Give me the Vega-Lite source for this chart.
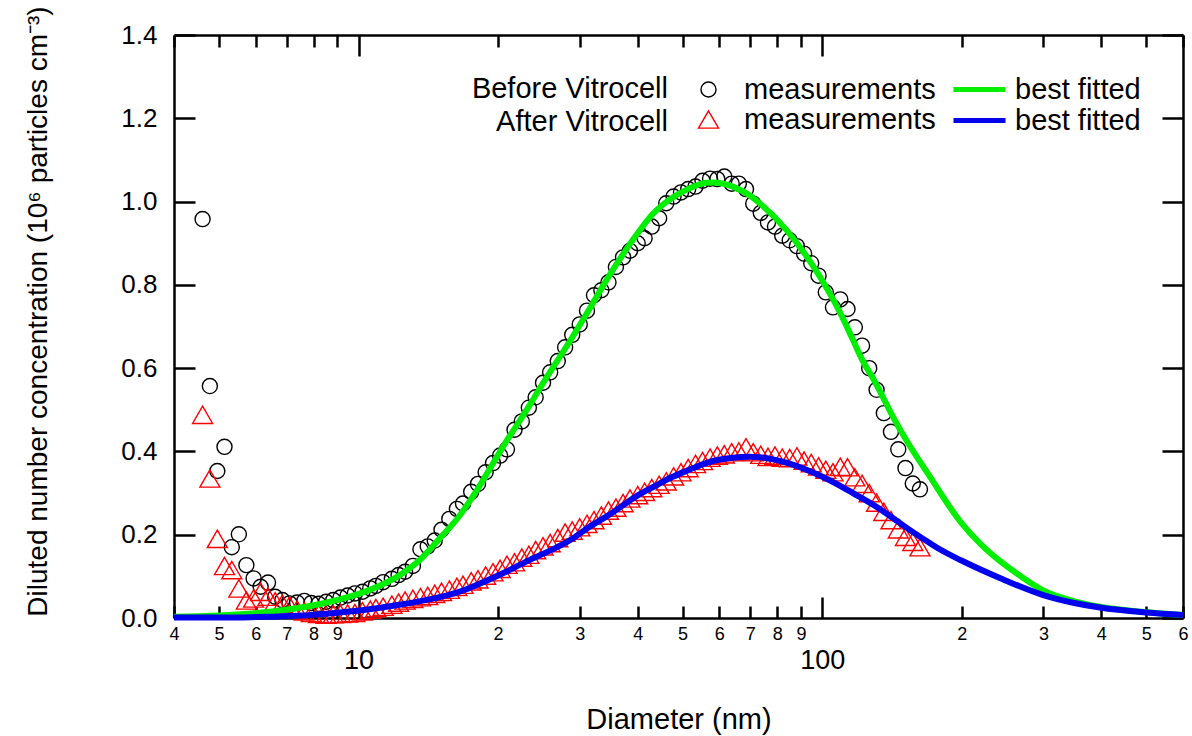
{
  "$schema": "https://vega.github.io/schema/vega-lite/v6.json",
  "width": 1009,
  "height": 583,
  "autosize": {"type": "none"},
  "padding": {"left": 174, "top": 35, "right": 9, "bottom": 118},
  "background": "white",
  "config": {
    "view": {"stroke": null},
    "font": "Liberation Sans",
    "axis": {
      "grid": false,
      "domainColor": "black",
      "domainWidth": 2.5,
      "tickColor": "black",
      "tickWidth": 2.5,
      "labelColor": "black",
      "titleColor": "black",
      "labelFont": "Liberation Sans",
      "titleFont": "Liberation Sans",
      "titleFontWeight": "normal"
    },
    "legend": {
      "labelFont": "Liberation Sans",
      "titleFont": "Liberation Sans",
      "labelColor": "black",
      "titleColor": "black",
      "padding": 0,
      "labelLimit": 400,
      "titleLimit": 400
    }
  },
  "datasets": {
    "meas": [
      {"d":4.61,"v":0.958,"g":"Before Vitrocell"},{"d":4.78,"v":0.557,"g":"Before Vitrocell"},{"d":4.96,"v":0.353,"g":"Before Vitrocell"},{"d":5.14,"v":0.411,"g":"Before Vitrocell"},{"d":5.33,"v":0.170,"g":"Before Vitrocell"},{"d":5.52,"v":0.201,"g":"Before Vitrocell"},{"d":5.73,"v":0.127,"g":"Before Vitrocell"},{"d":5.94,"v":0.095,"g":"Before Vitrocell"},{"d":6.15,"v":0.075,"g":"Before Vitrocell"},{"d":6.38,"v":0.085,"g":"Before Vitrocell"},
      {"d":6.61,"v":0.051,"g":"Before Vitrocell"},{"d":6.85,"v":0.043,"g":"Before Vitrocell"},{"d":7.1,"v":0.035,"g":"Before Vitrocell"},{"d":7.37,"v":0.037,"g":"Before Vitrocell"},{"d":7.64,"v":0.041,"g":"Before Vitrocell"},{"d":7.91,"v":0.036,"g":"Before Vitrocell"},{"d":8.2,"v":0.034,"g":"Before Vitrocell"},{"d":8.51,"v":0.039,"g":"Before Vitrocell"},{"d":8.82,"v":0.043,"g":"Before Vitrocell"},{"d":9.14,"v":0.049,"g":"Before Vitrocell"},
      {"d":9.47,"v":0.054,"g":"Before Vitrocell"},{"d":9.82,"v":0.059,"g":"Before Vitrocell"},{"d":10.2,"v":0.063,"g":"Before Vitrocell"},{"d":10.6,"v":0.071,"g":"Before Vitrocell"},{"d":10.9,"v":0.077,"g":"Before Vitrocell"},{"d":11.3,"v":0.086,"g":"Before Vitrocell"},{"d":11.8,"v":0.094,"g":"Before Vitrocell"},{"d":12.2,"v":0.103,"g":"Before Vitrocell"},{"d":12.6,"v":0.111,"g":"Before Vitrocell"},{"d":13.1,"v":0.125,"g":"Before Vitrocell"},
      {"d":13.6,"v":0.165,"g":"Before Vitrocell"},{"d":14.1,"v":0.172,"g":"Before Vitrocell"},{"d":14.6,"v":0.186,"g":"Before Vitrocell"},{"d":15.1,"v":0.212,"g":"Before Vitrocell"},{"d":15.7,"v":0.238,"g":"Before Vitrocell"},{"d":16.3,"v":0.262,"g":"Before Vitrocell"},{"d":16.8,"v":0.275,"g":"Before Vitrocell"},{"d":17.5,"v":0.303,"g":"Before Vitrocell"},{"d":18.1,"v":0.322,"g":"Before Vitrocell"},{"d":18.8,"v":0.350,"g":"Before Vitrocell"},
      {"d":19.5,"v":0.372,"g":"Before Vitrocell"},{"d":20.2,"v":0.390,"g":"Before Vitrocell"},{"d":20.9,"v":0.405,"g":"Before Vitrocell"},{"d":21.7,"v":0.452,"g":"Before Vitrocell"},{"d":22.5,"v":0.472,"g":"Before Vitrocell"},{"d":23.3,"v":0.505,"g":"Before Vitrocell"},{"d":24.1,"v":0.530,"g":"Before Vitrocell"},{"d":25.0,"v":0.565,"g":"Before Vitrocell"},{"d":25.9,"v":0.590,"g":"Before Vitrocell"},{"d":26.9,"v":0.617,"g":"Before Vitrocell"},
      {"d":27.9,"v":0.650,"g":"Before Vitrocell"},{"d":28.9,"v":0.680,"g":"Before Vitrocell"},{"d":30.0,"v":0.705,"g":"Before Vitrocell"},{"d":31.1,"v":0.738,"g":"Before Vitrocell"},{"d":32.2,"v":0.775,"g":"Before Vitrocell"},{"d":33.4,"v":0.787,"g":"Before Vitrocell"},{"d":34.6,"v":0.806,"g":"Before Vitrocell"},{"d":35.9,"v":0.843,"g":"Before Vitrocell"},{"d":37.2,"v":0.866,"g":"Before Vitrocell"},{"d":38.5,"v":0.882,"g":"Before Vitrocell"},
      {"d":40.0,"v":0.900,"g":"Before Vitrocell"},{"d":41.4,"v":0.912,"g":"Before Vitrocell"},{"d":42.9,"v":0.940,"g":"Before Vitrocell"},{"d":44.5,"v":0.960,"g":"Before Vitrocell"},{"d":46.1,"v":0.996,"g":"Before Vitrocell"},{"d":47.8,"v":1.012,"g":"Before Vitrocell"},{"d":49.6,"v":1.022,"g":"Before Vitrocell"},{"d":51.4,"v":1.030,"g":"Before Vitrocell"},{"d":53.3,"v":1.036,"g":"Before Vitrocell"},{"d":55.2,"v":1.050,"g":"Before Vitrocell"},
      {"d":57.3,"v":1.055,"g":"Before Vitrocell"},{"d":59.4,"v":1.054,"g":"Before Vitrocell"},{"d":61.5,"v":1.060,"g":"Before Vitrocell"},{"d":63.8,"v":1.043,"g":"Before Vitrocell"},{"d":66.1,"v":1.043,"g":"Before Vitrocell"},{"d":68.5,"v":1.030,"g":"Before Vitrocell"},{"d":71.0,"v":0.995,"g":"Before Vitrocell"},{"d":73.7,"v":0.973,"g":"Before Vitrocell"},{"d":76.4,"v":0.950,"g":"Before Vitrocell"},{"d":79.1,"v":0.940,"g":"Before Vitrocell"},
      {"d":82.0,"v":0.918,"g":"Before Vitrocell"},{"d":85.1,"v":0.907,"g":"Before Vitrocell"},{"d":88.2,"v":0.893,"g":"Before Vitrocell"},{"d":91.4,"v":0.875,"g":"Before Vitrocell"},{"d":94.7,"v":0.852,"g":"Before Vitrocell"},{"d":98.2,"v":0.822,"g":"Before Vitrocell"},{"d":101.8,"v":0.782,"g":"Before Vitrocell"},{"d":105.5,"v":0.746,"g":"Before Vitrocell"},{"d":109.4,"v":0.765,"g":"Before Vitrocell"},{"d":113.4,"v":0.742,"g":"Before Vitrocell"},
      {"d":117.6,"v":0.698,"g":"Before Vitrocell"},{"d":121.9,"v":0.654,"g":"Before Vitrocell"},{"d":126.3,"v":0.600,"g":"Before Vitrocell"},{"d":131.0,"v":0.548,"g":"Before Vitrocell"},{"d":135.8,"v":0.492,"g":"Before Vitrocell"},{"d":140.7,"v":0.447,"g":"Before Vitrocell"},{"d":145.9,"v":0.405,"g":"Before Vitrocell"},{"d":151.2,"v":0.360,"g":"Before Vitrocell"},{"d":156.8,"v":0.323,"g":"Before Vitrocell"},{"d":162.5,"v":0.309,"g":"Before Vitrocell"},
      {"d":4.61,"v":0.488,"g":"After Vitrocell"},{"d":4.78,"v":0.335,"g":"After Vitrocell"},{"d":4.96,"v":0.190,"g":"After Vitrocell"},{"d":5.14,"v":0.125,"g":"After Vitrocell"},{"d":5.33,"v":0.115,"g":"After Vitrocell"},{"d":5.52,"v":0.071,"g":"After Vitrocell"},{"d":5.73,"v":0.042,"g":"After Vitrocell"},{"d":5.94,"v":0.047,"g":"After Vitrocell"},{"d":6.15,"v":0.063,"g":"After Vitrocell"},{"d":6.38,"v":0.051,"g":"After Vitrocell"},
      {"d":6.61,"v":0.040,"g":"After Vitrocell"},{"d":6.85,"v":0.034,"g":"After Vitrocell"},{"d":7.1,"v":0.030,"g":"After Vitrocell"},{"d":7.37,"v":0.020,"g":"After Vitrocell"},{"d":7.64,"v":0.016,"g":"After Vitrocell"},{"d":7.91,"v":0.012,"g":"After Vitrocell"},{"d":8.2,"v":0.010,"g":"After Vitrocell"},{"d":8.51,"v":0.008,"g":"After Vitrocell"},{"d":8.82,"v":0.009,"g":"After Vitrocell"},{"d":9.14,"v":0.010,"g":"After Vitrocell"},
      {"d":9.47,"v":0.011,"g":"After Vitrocell"},{"d":9.82,"v":0.012,"g":"After Vitrocell"},{"d":10.2,"v":0.016,"g":"After Vitrocell"},{"d":10.6,"v":0.020,"g":"After Vitrocell"},{"d":10.9,"v":0.024,"g":"After Vitrocell"},{"d":11.3,"v":0.027,"g":"After Vitrocell"},{"d":11.8,"v":0.032,"g":"After Vitrocell"},{"d":12.2,"v":0.037,"g":"After Vitrocell"},{"d":12.6,"v":0.042,"g":"After Vitrocell"},{"d":13.1,"v":0.046,"g":"After Vitrocell"},
      {"d":13.6,"v":0.050,"g":"After Vitrocell"},{"d":14.1,"v":0.053,"g":"After Vitrocell"},{"d":14.6,"v":0.058,"g":"After Vitrocell"},{"d":15.1,"v":0.063,"g":"After Vitrocell"},{"d":15.7,"v":0.068,"g":"After Vitrocell"},{"d":16.3,"v":0.075,"g":"After Vitrocell"},{"d":16.8,"v":0.080,"g":"After Vitrocell"},{"d":17.5,"v":0.088,"g":"After Vitrocell"},{"d":18.1,"v":0.093,"g":"After Vitrocell"},{"d":18.8,"v":0.102,"g":"After Vitrocell"},
      {"d":19.5,"v":0.110,"g":"After Vitrocell"},{"d":20.2,"v":0.118,"g":"After Vitrocell"},{"d":20.9,"v":0.128,"g":"After Vitrocell"},{"d":21.7,"v":0.134,"g":"After Vitrocell"},{"d":22.5,"v":0.145,"g":"After Vitrocell"},{"d":23.3,"v":0.152,"g":"After Vitrocell"},{"d":24.1,"v":0.163,"g":"After Vitrocell"},{"d":25.0,"v":0.172,"g":"After Vitrocell"},{"d":25.9,"v":0.180,"g":"After Vitrocell"},{"d":26.9,"v":0.192,"g":"After Vitrocell"},
      {"d":27.9,"v":0.205,"g":"After Vitrocell"},{"d":28.9,"v":0.210,"g":"After Vitrocell"},{"d":30.0,"v":0.218,"g":"After Vitrocell"},{"d":31.1,"v":0.226,"g":"After Vitrocell"},{"d":32.2,"v":0.235,"g":"After Vitrocell"},{"d":33.4,"v":0.246,"g":"After Vitrocell"},{"d":34.6,"v":0.258,"g":"After Vitrocell"},{"d":35.9,"v":0.265,"g":"After Vitrocell"},{"d":37.2,"v":0.276,"g":"After Vitrocell"},{"d":38.5,"v":0.287,"g":"After Vitrocell"},
      {"d":40.0,"v":0.295,"g":"After Vitrocell"},{"d":41.4,"v":0.303,"g":"After Vitrocell"},{"d":42.9,"v":0.312,"g":"After Vitrocell"},{"d":44.5,"v":0.320,"g":"After Vitrocell"},{"d":46.1,"v":0.328,"g":"After Vitrocell"},{"d":47.8,"v":0.340,"g":"After Vitrocell"},{"d":49.6,"v":0.350,"g":"After Vitrocell"},{"d":51.4,"v":0.360,"g":"After Vitrocell"},{"d":53.3,"v":0.370,"g":"After Vitrocell"},{"d":55.2,"v":0.377,"g":"After Vitrocell"},
      {"d":57.3,"v":0.385,"g":"After Vitrocell"},{"d":59.4,"v":0.390,"g":"After Vitrocell"},{"d":61.5,"v":0.393,"g":"After Vitrocell"},{"d":63.8,"v":0.398,"g":"After Vitrocell"},{"d":66.1,"v":0.400,"g":"After Vitrocell"},{"d":68.5,"v":0.410,"g":"After Vitrocell"},{"d":71.0,"v":0.398,"g":"After Vitrocell"},{"d":73.7,"v":0.392,"g":"After Vitrocell"},{"d":76.4,"v":0.387,"g":"After Vitrocell"},{"d":79.1,"v":0.390,"g":"After Vitrocell"},
      {"d":82.0,"v":0.385,"g":"After Vitrocell"},{"d":85.1,"v":0.384,"g":"After Vitrocell"},{"d":88.2,"v":0.388,"g":"After Vitrocell"},{"d":91.4,"v":0.378,"g":"After Vitrocell"},{"d":94.7,"v":0.372,"g":"After Vitrocell"},{"d":98.2,"v":0.364,"g":"After Vitrocell"},{"d":101.8,"v":0.356,"g":"After Vitrocell"},{"d":105.5,"v":0.350,"g":"After Vitrocell"},{"d":109.4,"v":0.363,"g":"After Vitrocell"},{"d":113.4,"v":0.362,"g":"After Vitrocell"},
      {"d":117.6,"v":0.338,"g":"After Vitrocell"},{"d":121.9,"v":0.322,"g":"After Vitrocell"},{"d":126.3,"v":0.300,"g":"After Vitrocell"},{"d":131.0,"v":0.277,"g":"After Vitrocell"},{"d":135.8,"v":0.255,"g":"After Vitrocell"},{"d":140.7,"v":0.235,"g":"After Vitrocell"},{"d":145.9,"v":0.213,"g":"After Vitrocell"},{"d":151.2,"v":0.195,"g":"After Vitrocell"},{"d":156.8,"v":0.183,"g":"After Vitrocell"},{"d":162.5,"v":0.170,"g":"After Vitrocell"}
    ],
    "fit": [
      {"d":4.0,"v":0.003,"g":"Before Vitrocell"},{"d":5.0,"v":0.006,"g":"Before Vitrocell"},{"d":5.89,"v":0.011,"g":"Before Vitrocell"},{"d":6.42,"v":0.015,"g":"Before Vitrocell"},{"d":7.56,"v":0.026,"g":"Before Vitrocell"},{"d":8.22,"v":0.033,"g":"Before Vitrocell"},{"d":9.69,"v":0.053,"g":"Before Vitrocell"},{"d":10.54,"v":0.067,"g":"Before Vitrocell"},{"d":12.43,"v":0.107,"g":"Before Vitrocell"},{"d":13.52,"v":0.138,"g":"Before Vitrocell"},
      {"d":14.94,"v":0.19,"g":"Before Vitrocell"},{"d":16.5,"v":0.245,"g":"Before Vitrocell"},{"d":17.6,"v":0.29,"g":"Before Vitrocell"},{"d":20.8,"v":0.423,"g":"Before Vitrocell"},{"d":23.36,"v":0.51,"g":"Before Vitrocell"},{"d":24.55,"v":0.55,"g":"Before Vitrocell"},{"d":28.98,"v":0.676,"g":"Before Vitrocell"},{"d":31.48,"v":0.742,"g":"Before Vitrocell"},{"d":34.2,"v":0.81,"g":"Before Vitrocell"},{"d":40.36,"v":0.93,"g":"Before Vitrocell"},
      {"d":43.1,"v":0.97,"g":"Before Vitrocell"},{"d":47.6,"v":1.01,"g":"Before Vitrocell"},{"d":50.9,"v":1.028,"g":"Before Vitrocell"},{"d":56.2,"v":1.045,"g":"Before Vitrocell"},{"d":58.1,"v":1.046,"g":"Before Vitrocell"},{"d":64.2,"v":1.036,"g":"Before Vitrocell"},{"d":69.7,"v":1.015,"g":"Before Vitrocell"},{"d":73.3,"v":0.996,"g":"Before Vitrocell"},{"d":83.7,"v":0.932,"g":"Before Vitrocell"},{"d":98.8,"v":0.82,"g":"Before Vitrocell"},
      {"d":109.1,"v":0.735,"g":"Before Vitrocell"},{"d":116.5,"v":0.668,"g":"Before Vitrocell"},{"d":122.0,"v":0.62,"g":"Before Vitrocell"},{"d":128.8,"v":0.575,"g":"Before Vitrocell"},{"d":144.6,"v":0.468,"g":"Before Vitrocell"},{"d":151.9,"v":0.427,"g":"Before Vitrocell"},{"d":170.6,"v":0.340,"g":"Before Vitrocell"},{"d":199.7,"v":0.228,"g":"Before Vitrocell"},{"d":220.0,"v":0.177,"g":"Before Vitrocell"},{"d":241.6,"v":0.137,"g":"Before Vitrocell"},
      {"d":270.0,"v":0.098,"g":"Before Vitrocell"},{"d":299.7,"v":0.066,"g":"Before Vitrocell"},{"d":350.0,"v":0.040,"g":"Before Vitrocell"},{"d":397,"v":0.027,"g":"Before Vitrocell"},{"d":501,"v":0.014,"g":"Before Vitrocell"},{"d":600,"v":0.007,"g":"Before Vitrocell"},
      {"d":4.0,"v":0.001,"g":"After Vitrocell"},{"d":5.0,"v":0.001,"g":"After Vitrocell"},{"d":5.89,"v":0.002,"g":"After Vitrocell"},{"d":6.42,"v":0.003,"g":"After Vitrocell"},{"d":7.56,"v":0.006,"g":"After Vitrocell"},{"d":8.22,"v":0.009,"g":"After Vitrocell"},{"d":9.69,"v":0.016,"g":"After Vitrocell"},{"d":10.54,"v":0.021,"g":"After Vitrocell"},{"d":12.43,"v":0.033,"g":"After Vitrocell"},{"d":13.52,"v":0.040,"g":"After Vitrocell"},
      {"d":14.94,"v":0.050,"g":"After Vitrocell"},{"d":16.5,"v":0.063,"g":"After Vitrocell"},{"d":17.6,"v":0.075,"g":"After Vitrocell"},{"d":20.8,"v":0.111,"g":"After Vitrocell"},{"d":23.36,"v":0.139,"g":"After Vitrocell"},{"d":24.55,"v":0.150,"g":"After Vitrocell"},{"d":28.98,"v":0.191,"g":"After Vitrocell"},{"d":31.48,"v":0.219,"g":"After Vitrocell"},{"d":34.2,"v":0.243,"g":"After Vitrocell"},{"d":40.36,"v":0.297,"g":"After Vitrocell"},
      {"d":43.1,"v":0.314,"g":"After Vitrocell"},{"d":47.6,"v":0.339,"g":"After Vitrocell"},{"d":50.9,"v":0.353,"g":"After Vitrocell"},{"d":56.2,"v":0.372,"g":"After Vitrocell"},{"d":58.1,"v":0.377,"g":"After Vitrocell"},{"d":64.2,"v":0.385,"g":"After Vitrocell"},{"d":69.7,"v":0.387,"g":"After Vitrocell"},{"d":73.3,"v":0.386,"g":"After Vitrocell"},{"d":83.7,"v":0.373,"g":"After Vitrocell"},{"d":98.8,"v":0.342,"g":"After Vitrocell"},
      {"d":109.1,"v":0.318,"g":"After Vitrocell"},{"d":116.5,"v":0.300,"g":"After Vitrocell"},{"d":128.8,"v":0.272,"g":"After Vitrocell"},{"d":144.6,"v":0.234,"g":"After Vitrocell"},{"d":151.9,"v":0.217,"g":"After Vitrocell"},{"d":170.6,"v":0.180,"g":"After Vitrocell"},{"d":179.3,"v":0.165,"g":"After Vitrocell"},{"d":199.7,"v":0.138,"g":"After Vitrocell"},{"d":241.6,"v":0.096,"g":"After Vitrocell"},{"d":299.7,"v":0.055,"g":"After Vitrocell"},
      {"d":350.0,"v":0.036,"g":"After Vitrocell"},{"d":397,"v":0.025,"g":"After Vitrocell"},{"d":501,"v":0.013,"g":"After Vitrocell"},{"d":600,"v":0.007,"g":"After Vitrocell"}
    ]
  },
  "layer": [
    {
      "data": {"name": "meas"},
      "mark": {"type": "point", "filled": false, "strokeWidth": 1.4, "opacity": 1},
      "encoding": {
        "x": {
          "field": "d", "type": "quantitative",
          "scale": {"type": "log", "domain": [4, 600], "nice": false},
          "axis": {
            "orient": "bottom",
            "values": [4,5,6,7,8,9,10,20,30,40,50,60,70,80,90,100,200,300,400,500,600],
            "labelExpr": "datum.value == 10 || datum.value == 100 ? format(datum.value, 'd') : format(datum.value / pow(10, floor(log(datum.value) / LN10 + 1e-9)), 'd')",
            "labelFontSize": {"condition": {"test": "datum.value == 10 || datum.value == 100", "value": 27}, "value": 18},
            "labelPadding": {"condition": {"test": "datum.value == 10 || datum.value == 100", "value": 50}, "value": 19},
            "tickSize": {"condition": {"test": "datum.value == 10 || datum.value == 100", "value": -21}, "value": -12},
            "labelFlush": false,
            "labelOverlap": false,
            "labelBound": false,
            "title": "Diameter (nm)",
            "titleFontSize": 29,
            "titlePadding": 32
          }
        },
        "y": {
          "field": "v", "type": "quantitative",
          "scale": {"domain": [0, 1.4], "nice": false},
          "axis": {
            "orient": "left",
            "values": [0, 0.2, 0.4, 0.6, 0.8, 1.0, 1.2, 1.4],
            "format": ".1f",
            "labelFontSize": 26,
            "labelPadding": 38,
            "tickSize": -21,
            "labelFlush": false,
            "labelOverlap": false,
            "title": "Diluted number concentration (10⁶ particles cm⁻³)",
            "titleFontSize": 28,
            "titlePadding": 68,
            "titleY": 276
          }
        },
        "shape": {
          "field": "g", "type": "nominal",
          "scale": {"domain": ["Before Vitrocell", "After Vitrocell"], "range": ["circle", "triangle-up"]},
          "legend": {
            "orient": "none", "legendX": 298, "legendY": 40,
            "title": ["Before Vitrocell", "After Vitrocell"],
            "titleOrient": "left", "titleAlign": "right", "titleAnchor": "start", "titleBaseline": "top",
            "titleFontSize": 29, "titleFontWeight": "normal", "titleLineHeight": 33, "titlePadding": -171,
            "labelExpr": "'measurements'", "labelFontSize": 29, "labelOffset": 21,
            "symbolStrokeWidth": 1.4, "rowPadding": 0
          }
        },
        "color": {
          "field": "g", "type": "nominal",
          "scale": {"domain": ["Before Vitrocell", "After Vitrocell"], "range": ["#000000", "#ff0000"]},
          "legend": {
            "orient": "none", "legendX": 298, "legendY": 40,
            "title": ["Before Vitrocell", "After Vitrocell"],
            "titleOrient": "left", "titleAlign": "right", "titleAnchor": "start", "titleBaseline": "top",
            "titleFontSize": 29, "titleFontWeight": "normal", "titleLineHeight": 33, "titlePadding": -171,
            "labelExpr": "'measurements'", "labelFontSize": 29, "labelOffset": 21,
            "symbolStrokeWidth": 1.4, "rowPadding": 0
          }
        },
        "size": {
          "field": "g", "type": "nominal",
          "scale": {"domain": ["Before Vitrocell", "After Vitrocell"], "range": [227, 400]},
          "legend": {
            "orient": "none", "legendX": 298, "legendY": 40,
            "title": ["Before Vitrocell", "After Vitrocell"],
            "titleOrient": "left", "titleAlign": "right", "titleAnchor": "start", "titleBaseline": "top",
            "titleFontSize": 29, "titleFontWeight": "normal", "titleLineHeight": 33, "titlePadding": -171,
            "labelExpr": "'measurements'", "labelFontSize": 29, "labelOffset": 21,
            "symbolStrokeWidth": 1.4, "rowPadding": 0
          }
        }
      }
    },
    {
      "data": {"name": "fit"},
      "mark": {"type": "line", "strokeWidth": 6, "interpolate": "monotone"},
      "encoding": {
        "x": {
          "field": "d", "type": "quantitative",
          "scale": {"type": "log", "domain": [4, 600], "nice": false},
          "axis": {
            "orient": "top",
            "values": [4,5,6,7,8,9,10,20,30,40,50,60,70,80,90,100,200,300,400,500,600],
            "labels": false,
            "tickSize": {"condition": {"test": "datum.value == 10 || datum.value == 100", "value": -21}, "value": -12},
            "title": null
          }
        },
        "y": {
          "field": "v", "type": "quantitative",
          "scale": {"domain": [0, 1.4], "nice": false},
          "axis": {
            "orient": "right",
            "values": [0, 0.2, 0.4, 0.6, 0.8, 1.0, 1.2, 1.4],
            "labels": false,
            "tickSize": -21,
            "title": null
          }
        },
        "color": {
          "field": "g", "type": "nominal",
          "scale": {"domain": ["Before Vitrocell", "After Vitrocell"], "range": ["#00ee00", "#0000ee"]},
          "legend": {
            "orient": "none", "legendX": 790, "legendY": 39,
            "title": null,
            "labelExpr": "'best fitted'", "labelFontSize": 29, "labelOffset": 20,
            "symbolType": "M-2,0H2", "symbolStrokeWidth": 5, "symbolSize": 676,
            "rowPadding": 0
          }
        }
      }
    }
  ],
  "resolve": {
    "scale": {"color": "independent", "shape": "independent", "size": "independent"},
    "axis": {"x": "independent", "y": "independent"}
  }
}
